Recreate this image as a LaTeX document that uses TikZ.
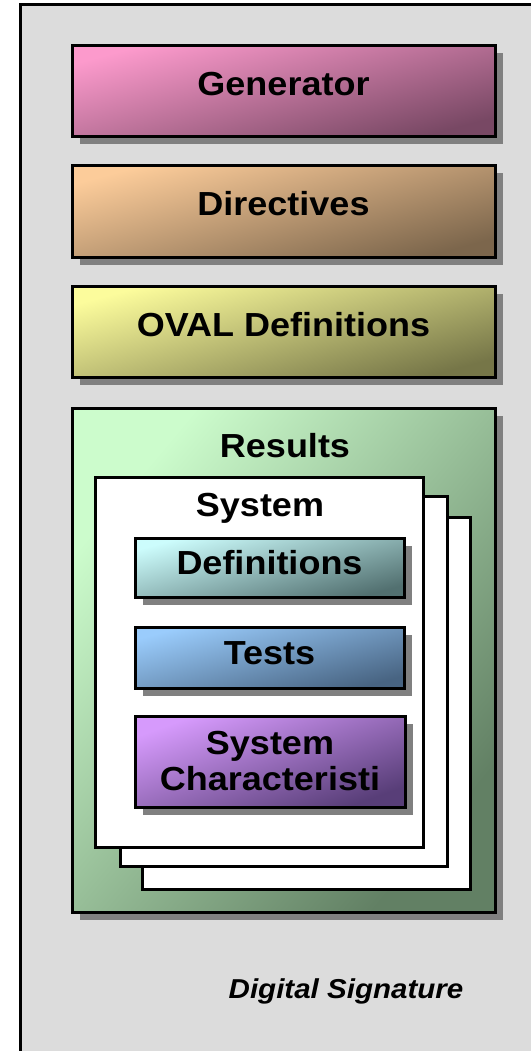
\documentclass[tikz,border=0pt]{standalone}
\usepackage{fontspec}
\setmainfont[FakeStretch=1.08]{Liberation Sans}
\usepackage{xcolor}
\usetikzlibrary{shadows}

\definecolor{bggray}{RGB}{220,220,220}
\definecolor{shadowgray}{RGB}{128,128,128}
\definecolor{genlight}{RGB}{252,154,204}
\definecolor{gendark}{RGB}{120,72,100}
\definecolor{dirlight}{RGB}{252,204,154}
\definecolor{dirdark}{RGB}{124,102,76}
\definecolor{ovallight}{RGB}{252,252,156}
\definecolor{ovaldark}{RGB}{118,118,72}
\definecolor{reslight}{RGB}{204,252,204}
\definecolor{resdark}{RGB}{98,128,100}
\definecolor{deflight}{RGB}{204,252,252}
\definecolor{defdark}{RGB}{82,112,112}
\definecolor{testlight}{RGB}{154,204,252}
\definecolor{testdark}{RGB}{72,100,130}
\definecolor{charlight}{RGB}{214,154,252}
\definecolor{chardark}{RGB}{88,62,120}

\begin{document}
\begin{tikzpicture}[x=0.75pt,y=0.75pt,yscale=-1,xscale=1,
  box/.style={draw=black, line width=2.25pt, inner sep=0pt, align=center,
    font=\fontsize{25}{27}\selectfont\bfseries,
    drop shadow={shadow xshift=6pt, shadow yshift=-6pt, fill=shadowgray, opacity=1}},
  gradfill/.style n args={3}{top color=#1, bottom color=#2, shading angle=#3},
  page/.style={draw=black, line width=2.25pt, fill=white, inner sep=0pt},
  lbl/.style={anchor=base, font=\fontsize{25}{27}\selectfont\bfseries}]
\useasboundingbox (0,0) rectangle (531,1051);

%Shape: Frame
\draw [fill=bggray, line width=2.25pt] (20.5,4.5) rectangle (560,1080);

%Shape: Rectangle Generator
\node (gen) [box, gradfill={genlight}{gendark}{15}, minimum width=317.25pt, minimum height=68.25pt, text height=18pt, text depth=11pt] at (283.5,90.5) {Generator};
%Shape: Rectangle Directives
\node (dir) [box, gradfill={dirlight}{dirdark}{15}, minimum width=317.25pt, minimum height=69pt, text height=18pt, text depth=11pt] at (283.5,211) {Directives};
%Shape: Rectangle OVAL
\node (oval) [box, gradfill={ovallight}{ovaldark}{15}, minimum width=317.25pt, minimum height=68.25pt, text height=18pt, text depth=11pt] at (283.5,331.5) {OVAL Definitions};

%Shape: Rectangle Results
\node (res) [box, gradfill={reslight}{resdark}{50}, minimum width=317.25pt, minimum height=378pt] at (283.5,660) {};
% Text Node
\node (reslbl) [lbl] at (285,457.5) {Results};

%Shape: Pages
\node (page3) [page, minimum width=246pt, minimum height=279pt] at (306,703) {};
\node (page2) [page, minimum width=245.25pt, minimum height=277.5pt] at (283.5,681) {};
\node (page1) [page, minimum width=246pt, minimum height=277.5pt] at (259,662) {};
% Text Node
\node (syslbl) [lbl] at (260,516) {System};

%Shape: Rectangle Definitions
\node (defs) [box, gradfill={deflight}{defdark}{15}, minimum width=201.75pt, minimum height=44.25pt, text height=18pt, text depth=7pt] at (269.5,567.5) {Definitions};
%Shape: Rectangle Tests
\node (tests) [box, gradfill={testlight}{testdark}{15}, minimum width=201.75pt, minimum height=45.75pt, text height=18pt, text depth=7pt] at (269.5,657.5) {Tests};
%Shape: Rectangle System Characteristics
\node (chars) [box, gradfill={charlight}{chardark}{20}, minimum width=202.5pt, minimum height=68.25pt] at (270,761.5) {System\\Characteristi};

% Text Node
\node (sig) [anchor=base, font=\fontsize{20.5}{22}\selectfont\bfseries\itshape] at (346,998) {Digital Signature};

\end{tikzpicture}
\end{document}
